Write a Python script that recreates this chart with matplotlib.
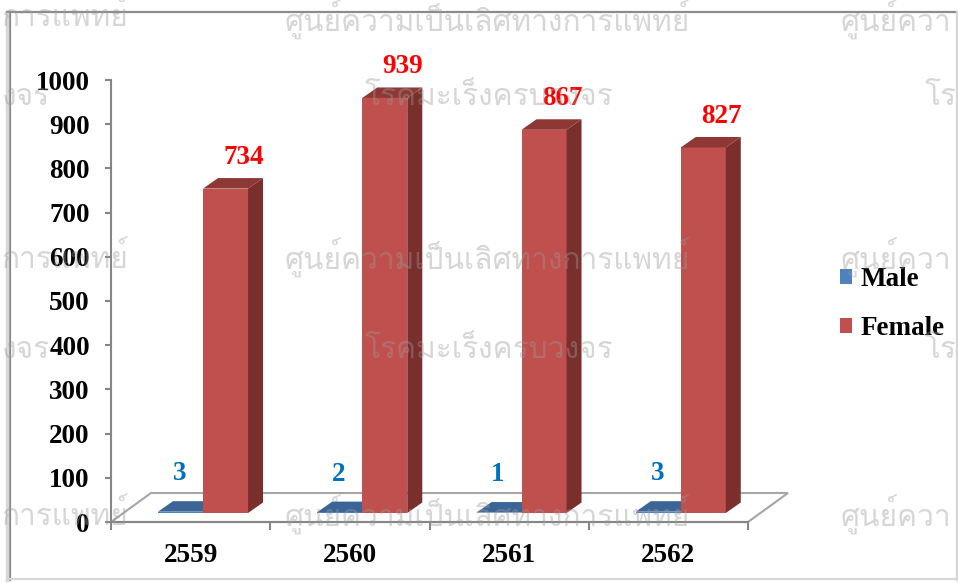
import matplotlib
matplotlib.use("Agg")
import matplotlib.pyplot as plt
from matplotlib.patches import Polygon
from matplotlib.lines import Line2D
from matplotlib import font_manager, ft2font

# ---------------- data ----------------
years = ["2559", "2560", "2561", "2562"]
male = [3, 2, 1, 3]
female = [734, 939, 867, 827]
series_names = ["Male", "Female"]
y_ticks = [0, 100, 200, 300, 400, 500, 600, 700, 800, 900, 1000]

# ---------------- style ----------------
W, H = 958, 583
male_front, male_side, male_top = "#4F81BD", "#34557F", "#3B6597"
fem_front, fem_side, fem_top = "#C0504D", "#7B2F2D", "#8E3836"
axis_col = "#868686"
serif = ["Liberation Serif", "DejaVu Serif"]
FS = 19.5

fig = plt.figure(figsize=(W / 100, H / 100), dpi=100)
fig.patch.set_facecolor("white")

ax_l, ax_r, ax_t, ax_b = 111, 748, 80, 522
ax = fig.add_axes([ax_l / W, 1 - ax_b / H, (ax_r - ax_l) / W, (ax_b - ax_t) / H])
ax.set_xlim(-0.5, len(years) - 0.5)
ax.set_ylim(0, 1000)
ax.set_facecolor("none")

# pixel -> data conversions
px_x = (ax_r - ax_l) / len(years)
px_y = (ax_b - ax_t) / 1000.0
def dx(p): return p / px_x
def dy(p): return p / px_y

floor_dx, floor_dy = dx(40), dy(29)
off_dx, off_dy = dx(12.4), dy(9)
dep_dx, dep_dy = dx(15), dy(10.5)
bw = dx(45)

# floor
floor = Polygon([(-0.5, 0), (len(years) - 0.5, 0),
                 (len(years) - 0.5 + floor_dx, floor_dy), (-0.5 + floor_dx, floor_dy)],
                closed=True, facecolor="white", edgecolor="#A6A6A6", lw=1.5,
                clip_on=False, zorder=1)
ax.add_patch(floor)

def bar3d(xs, vals, color_f, color_s, color_t, z):
    bars = ax.bar(xs, vals, width=bw, bottom=off_dy, align="edge", color=color_f,
                  edgecolor="none", zorder=z, clip_on=False)
    for b in bars:
        x0, y0 = b.get_x(), b.get_y()
        x1, y1 = x0 + b.get_width(), y0 + b.get_height()
        side = Polygon([(x1, y0), (x1 + dep_dx, y0 + dep_dy), (x1 + dep_dx, y1 + dep_dy), (x1, y1)],
                       closed=True, facecolor=color_s, edgecolor="none", zorder=z, clip_on=False)
        top = Polygon([(x0, y1), (x1, y1), (x1 + dep_dx, y1 + dep_dy), (x0 + dep_dx, y1 + dep_dy)],
                      closed=True, facecolor=color_t, edgecolor="none", zorder=z, clip_on=False)
        ax.add_patch(side)
        ax.add_patch(top)
    return bars

xs = list(range(len(years)))
male_x = [x + off_dx - bw for x in xs]
fem_x = [x + off_dx for x in xs]
mb = bar3d(male_x, male, male_front, male_side, male_top, 2)
fb = bar3d(fem_x, female, fem_front, fem_side, fem_top, 3)

# data labels
for x, v in zip(fem_x, female):
    ax.text(x + bw / 2 + dx(18), off_dy + v + dy(31), str(v), ha="center", va="center",
            color="#FF0000", fontsize=FS, fontweight="bold", family=serif, zorder=6, clip_on=False)
for x, v in zip(male_x, male):
    ax.text(x + bw / 2 - dx(1), off_dy + v + dy(38), str(v), ha="center", va="center",
            color="#0070C0", fontsize=FS, fontweight="bold", family=serif, zorder=6)

# axes styling
for s in ["top", "right"]:
    ax.spines[s].set_visible(False)
for s in ["left", "bottom"]:
    ax.spines[s].set_color(axis_col)
    ax.spines[s].set_linewidth(1.5)
    ax.spines[s].set_zorder(1.5)

ax.set_yticks(y_ticks)
ax.set_yticklabels([str(t) for t in y_ticks], fontsize=FS, fontweight="bold", family=serif)
ax.tick_params(axis="y", length=4.3, width=1.5, color=axis_col, pad=11)

ax.set_xticks(xs)
ax.set_xticklabels(years, fontsize=FS, fontweight="bold", family=serif)
ax.set_xticks([x + 0.5 for x in range(-1, len(years))], minor=True)
ax.tick_params(axis="x", which="major", length=0, pad=15)
ax.tick_params(axis="x", which="minor", length=5.8, width=1.5, color=axis_col)

# legend
leg = ax.legend([mb, fb], series_names, loc="center left",
                bbox_to_anchor=(840 / W, 1 - 304 / H), bbox_transform=fig.transFigure,
                frameon=False, prop={"family": serif, "weight": "bold", "size": FS},
                handlelength=0.46, handleheight=0.46, handletextpad=0.3, labelspacing=0.9,
                borderpad=0, borderaxespad=0)

# chart frame: darker top/left, light bottom/right
def fline(x0, y0, x1, y1, c, lw):
    fig.lines.append(Line2D([x0 / W, x1 / W], [1 - y0 / H, 1 - y1 / H],
                            transform=fig.transFigure, color=c, lw=lw, zorder=0))
fline(7, 12, 957, 12, "#8C8C8C", 1.6)
fline(10, 12, 10, 580, "#8C8C8C", 1.6)
fline(7, 14, 7, 580, "#D8D8D8", 2.5)
fline(10, 579, 957, 579, "#D6D6D6", 1.6)
fline(956.5, 12, 956.5, 580, "#D6D6D6", 1.6)

# watermark (only if a Thai-capable font is installed)
def find_thai_font():
    for f in font_manager.fontManager.ttflist:
        try:
            if 0x0E28 in ft2font.FT2Font(f.fname).get_charmap():
                return f.name
        except Exception:
            pass
    return None

thai = find_thai_font()
if thai:
    wm1 = "ศูนย์ความเป็นเลิศทางการแพทย์"
    wm2 = "โรคมะเร็งครบวงจร"
    wm_kw = dict(fontsize=21.5, color="#9A9A9A", alpha=0.4, family=thai, zorder=10)
    for yy in [258, 515]:
        fig.text(285 / W, 1 - yy / H, wm1, va="center", ha="left", **wm_kw)
        fig.text(128 / W, 1 - yy / H, "การแพทย์", va="center", ha="right", **wm_kw)
        fig.text(840 / W, 1 - yy / H, "ศูนย์ควา", va="center", ha="left", **wm_kw)
    fig.text(285 / W, 1.0, wm1, va="top", ha="left", **wm_kw)
    fig.text(128 / W, 1.0, "การแพทย์", va="top", ha="right", **wm_kw)
    fig.text(840 / W, 1.0, "ศูนย์ควา", va="top", ha="left", **wm_kw)
    for yy in [97, 350]:
        fig.text(365 / W, 1 - yy / H, wm2, va="center", ha="left", **wm_kw)
        fig.text(2 / W, 1 - yy / H, "งจร", va="center", ha="left", **wm_kw)
        fig.text(925 / W, 1 - yy / H, "โร", va="center", ha="left", **wm_kw)

fig.savefig("out.png", dpi=100)
